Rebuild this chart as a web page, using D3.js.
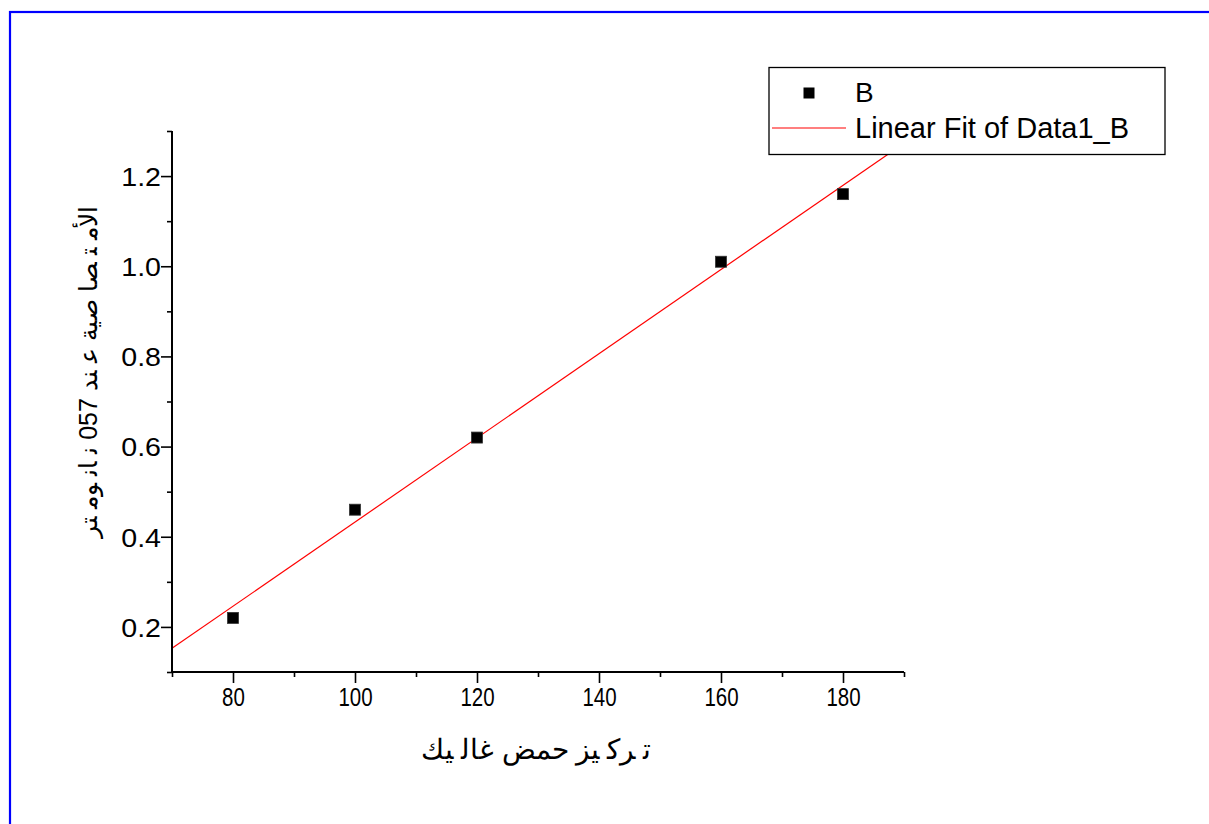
<!DOCTYPE html>
<html><head><meta charset="utf-8">
<script src="https://cdn.jsdelivr.net/npm/d3@7"></script>
<style>
html,body{margin:0;padding:0;background:#fff;}
svg{display:block;}
text{font-family:"Liberation Sans",Arial,sans-serif;fill:#000;}
</style></head>
<body>
<svg id="chart" width="1209" height="824"></svg>
<script>
// ---- data ----
const xValues = [80, 100, 120, 160, 180];
const yValues = [0.22, 0.46, 0.62, 1.01, 1.16];
const xMajorTicks = [80, 100, 120, 140, 160, 180];
const xMinorTicks = [70, 90, 110, 130, 150, 170, 190];
const yMajorTicks = [0.2, 0.4, 0.6, 0.8, 1.0, 1.2];
const yMinorTicks = [0.1, 0.3, 0.5, 0.7, 0.9, 1.1, 1.3];
const xDomain = [70, 190];
const yDomain = [0.1, 1.3];
const xTitle = "ﺗ ﺮﻛ ﻴﺰ ﺣﻤﺾ ﻏﺎﻟ  ﻴﻚ";
const yTitle = "ﺍﻷﻣ ﺘ ﺼﺎ ﺻﻴﺔ ﻋ ﻨﺪ 057 ﻧ ﺎﻧ ﻮﻣ ﺘﺮ";
const legendLabels = ["B", "Linear Fit of Data1_B"];

(function () {
const svg = d3.select("#chart");
const pLeft = 172, pRight = 904, pTop = 131, pBottom = 672;
const x = d3.scaleLinear().domain(xDomain).range([pLeft, pRight]);
const y = d3.scaleLinear().domain(yDomain).range([pBottom, pTop]);

// outer blue frame
svg.append("rect").attr("x", 10).attr("y", 12).attr("width", 1300).attr("height", 900)
  .attr("fill", "none").attr("stroke", "#0000ff").attr("stroke-width", 2.2);

// linear fit computed from the data
const n = xValues.length;
const mx = d3.mean(xValues), my = d3.mean(yValues);
let sxy = 0, sxx = 0;
for (let i = 0; i < n; i++) { sxy += (xValues[i]-mx)*(yValues[i]-my); sxx += (xValues[i]-mx)**2; }
const slope = sxy / sxx, intercept = my - slope * mx;
svg.append("line")
  .attr("x1", x(xDomain[0])).attr("y1", y(intercept + slope*xDomain[0]))
  .attr("x2", x(xDomain[1])).attr("y2", y(intercept + slope*xDomain[1]))
  .attr("stroke", "#ff0000").attr("stroke-width", 1.2);

// axes
const xAxis = svg.append("g").attr("transform", `translate(0,${pBottom})`)
  .call(d3.axisBottom(x).tickValues(xMajorTicks).tickSize(11).tickPadding(6).tickFormat(d3.format("d")));
const xMinor = svg.append("g").attr("transform", `translate(0,${pBottom})`)
  .call(d3.axisBottom(x).tickValues(xMinorTicks).tickSize(5).tickFormat(""));
const yAxis = svg.append("g").attr("transform", `translate(${pLeft},0)`)
  .call(d3.axisLeft(y).tickValues(yMajorTicks).tickSize(11).tickPadding(4).tickFormat(d3.format(".1f")));
const yMinor = svg.append("g").attr("transform", `translate(${pLeft},0)`)
  .call(d3.axisLeft(y).tickValues(yMinorTicks).tickSize(5).tickFormat(""));

[xAxis, xMinor, yAxis, yMinor].forEach(g => {
  g.select(".domain").attr("stroke", "#000").attr("stroke-width", 2);
  g.selectAll(".tick line").attr("stroke", "#000").attr("stroke-width", 1.6);
});
xMinor.select(".domain").remove();
yMinor.select(".domain").remove();
xAxis.select(".domain").attr("d", `M${pLeft},0H${pRight}`);
yAxis.select(".domain").attr("d", `M0,${pBottom}V${pTop}`);

xAxis.selectAll(".tick text")
  .attr("font-size", 25).attr("font-family", "Liberation Sans, Arial, sans-serif")
  .attr("fill", "#000").attr("dy", null).attr("y", 34)
  .attr("transform", "scale(0.82,1)");
const ySx = 1.1;
yAxis.selectAll(".tick text")
  .attr("font-size", 26).attr("font-family", "Liberation Sans, Arial, sans-serif")
  .attr("fill", "#000").attr("dy", "0.36em").attr("x", -11 / ySx)
  .attr("transform", `scale(${ySx},1)`);

// data markers
svg.append("g").selectAll("rect").data(xValues.map((v, i) => [v, yValues[i]])).join("rect")
  .attr("x", d => x(d[0]) - 5.5).attr("y", d => y(d[1]) - 5.5)
  .attr("width", 11).attr("height", 11)
  .attr("fill", "#000").attr("stroke", "#333").attr("stroke-width", 0.8);

// axis titles
svg.append("text").attr("x", 536).attr("y", 759).attr("text-anchor", "middle")
  .attr("direction", "rtl").attr("font-family", "DejaVu Sans, sans-serif")
  .attr("font-size", 28).text(xTitle);
svg.append("text").attr("transform", "translate(97,372) rotate(-90)")
  .attr("text-anchor", "middle").attr("direction", "rtl")
  .attr("font-family", "DejaVu Sans, sans-serif").attr("font-size", 25).text(yTitle);

// legend
const lg = svg.append("g");
lg.append("rect").attr("x", 769).attr("y", 67.5).attr("width", 396).attr("height", 87)
  .attr("fill", "#fff").attr("stroke", "#000").attr("stroke-width", 1.3);
lg.append("rect").attr("x", 803.5).attr("y", 87.5).attr("width", 11).attr("height", 11).attr("fill", "#000");
lg.append("line").attr("x1", 772).attr("x2", 846).attr("y1", 128).attr("y2", 128)
  .attr("stroke", "#ff0000").attr("stroke-width", 1.2);
lg.append("text").attr("x", 855).attr("y", 102).attr("font-size", 28).text(legendLabels[0]);
lg.append("text").attr("x", 855).attr("y", 138).attr("font-size", 29).text(legendLabels[1]);
})();
</script>
</body></html>
